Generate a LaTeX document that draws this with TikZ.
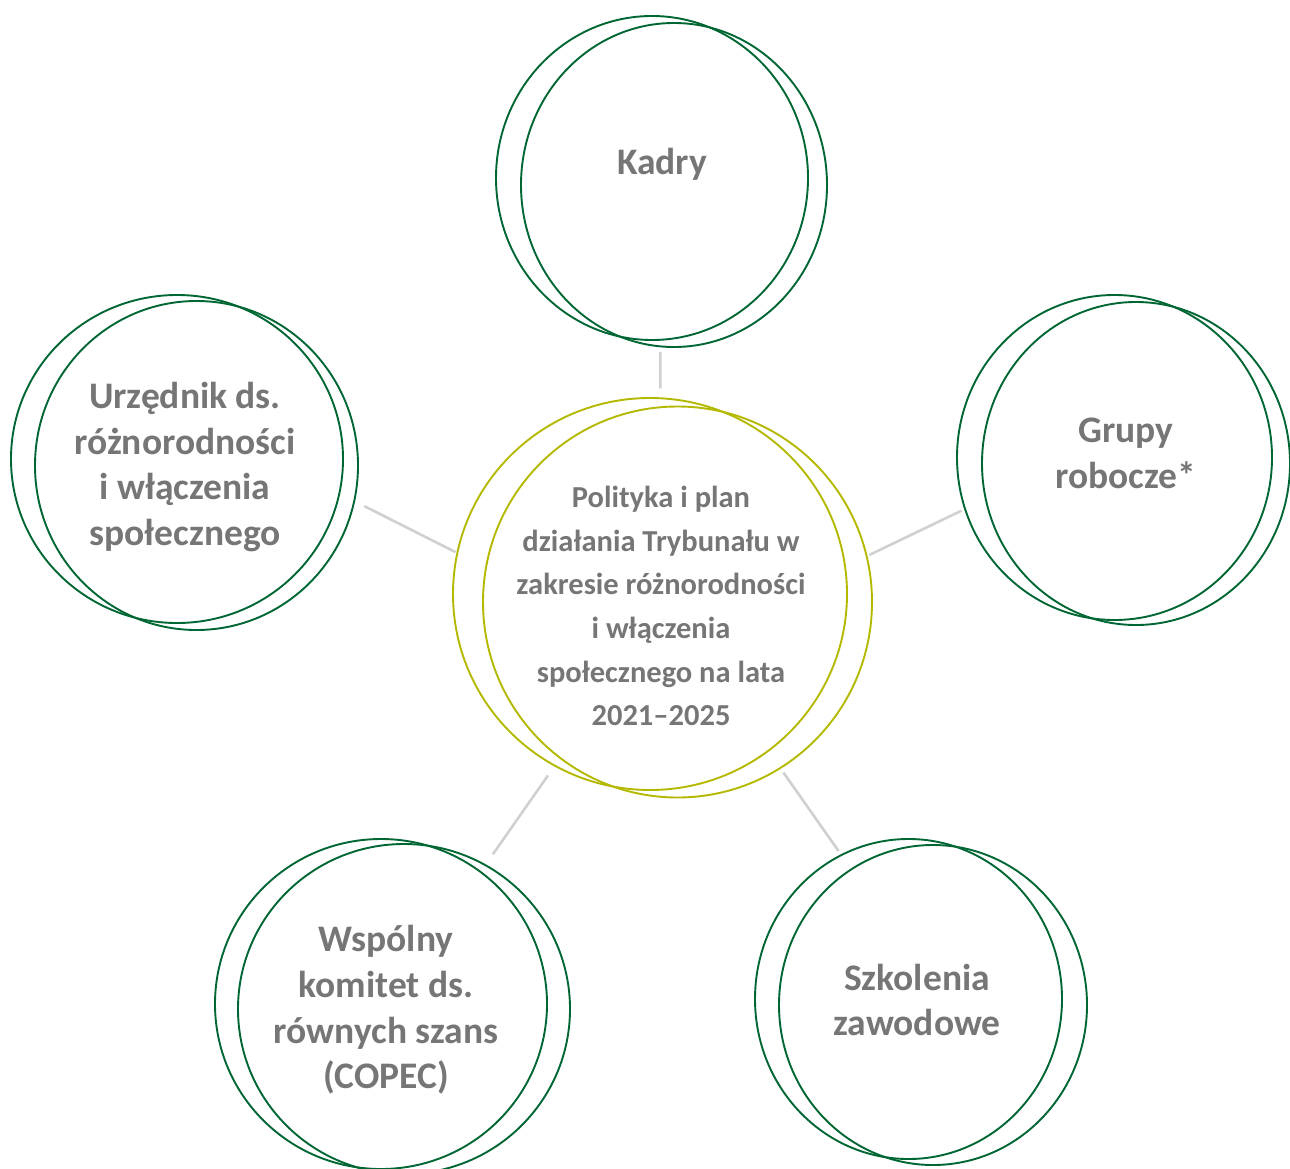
\documentclass[tikz,border=0pt]{standalone}
\usepackage{fontspec}
\setmainfont{Carlito}
\usepackage{tikz}
\usetikzlibrary{calc}
\usetikzlibrary{shapes.geometric}
\definecolor{ringgreen}{RGB}{0,102,51}
\definecolor{hubolive}{RGB}{180,185,0}
\definecolor{txtgray}{RGB}{118,118,118}
\definecolor{spokegray}{RGB}{208,208,208}
\tikzset{
    ring/.style={ellipse,draw=ringgreen,line width=1.9pt,inner sep=0pt,outer sep=0pt},
    hubring/.style={ring,draw=hubolive},
    spoke/.style={draw=spokegray,line width=2.6pt},
    bigtxt/.style={align=center,text=txtgray,font=\bfseries\fontsize{37.5}{45.7}\selectfont},
    hubtxt/.style={align=center,text=txtgray,font=\bfseries\fontsize{30.5}{43.6}\selectfont}
}

\begin{document}
\begin{tikzpicture}[x=1pt,y=-1pt]
\useasboundingbox (0,0) rectangle (1290,1169);
\clip (0,0) rectangle (1290,1169);
% front ring is the node, back ring is drawn shifted
\foreach \p/\x/\y/\w/\h/\dx/\dy/\rx/\ry/\st in {hub/650/594/394/392/27.5/8/194.5/195.5/hubring, kadry/652/178/312/324/22/7/153/162/ring, grupy/1114.5/457.5/315/325/21.5/6/154/161.5/ring, urz/177/459/332/328/19.5/6.5/161.5/164.5/ring, copec/381/1004/332/330/23/5/166/165/ring, szk/908.5/999/307/320/24.5/6/154/160/ring}{
    \node[\st,minimum width=\w pt,minimum height=\h pt] (\p) at (\x,\y) {};
    \draw[\st] ($(\p)+(\dx,\dy)$) ellipse [x radius=\rx pt,y radius=\ry pt];
}
% spokes
\foreach \a/\p/\b/\s/\t in {87/kadry/-87/10/12, 168/urz/-12/2/28, 8/grupy/199/27/4, 241/copec/53/12/21.5, -53/szk/115/26.5/5}{
    \draw[spoke,shorten <=\s pt,shorten >=\t pt] (hub.\a) -- (\p.\b);
}
\node at (661,606)[hubtxt] (hublab) {Polityka i plan\\działania Trybunału w\\zakresie różnorodności\\i włączenia\\społecznego na lata\\2021–2025};
\node at (662,164)[bigtxt] (kadrylab) {Kadry};
\node at (1126,453)[bigtxt] (grupylab) {Grupy\\robocze*};
\node at (185,467)[bigtxt] (urzlab) {Urzędnik ds.\\różnorodności\\i włączenia\\społecznego};
\node at (386,1010)[bigtxt] (copeclab) {Wspólny\\komitet ds.\\równych szans\\(COPEC)};
\node at (917,1000)[bigtxt] (szklab) {Szkolenia\\zawodowe};
\end{tikzpicture}
\end{document}
